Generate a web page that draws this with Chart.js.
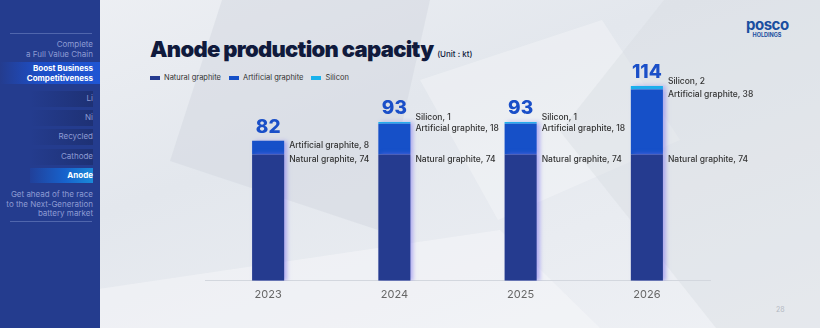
<!DOCTYPE html>
<html>
<head>
<meta charset="utf-8">
<script src="https://cdn.jsdelivr.net/npm/chart.js@4.4.1/dist/chart.umd.min.js"></script>
<style>
  html, body { margin: 0; padding: 0; }
  body {
    width: 820px; height: 328px; overflow: hidden; position: relative;
    font-family: "Inter", "Noto Sans", sans-serif;
    background: linear-gradient(160deg, #eef0f4 0%, #e3e7ed 40%, #e9ecf1 70%, #eff1f5 100%);
  }
  .shape { position: absolute; }
  .s1 { left: 170px; top: 0; width: 260px; height: 230px; background: rgba(208,213,221,0.45); clip-path: polygon(20% 0, 100% 0, 80% 100%, 0 70%); }
  .s2 { left: 420px; top: 20px; width: 260px; height: 200px; background: rgba(255,255,255,0.28); clip-path: polygon(0 30%, 70% 0, 100% 60%, 30% 100%); }
  .s3 { left: 560px; top: 0; width: 260px; height: 328px; background: rgba(214,219,226,0.4); clip-path: polygon(40% 0, 100% 0, 100% 100%, 60% 100%, 0 40%); }
  .s4 { left: 100px; top: 230px; width: 500px; height: 98px; background: rgba(248,249,251,0.45); clip-path: polygon(0 60%, 80% 0, 100% 100%, 0 100%); }
  #side {
    position: absolute; left: 0; top: 0; width: 100px; height: 328px; background: #243c8e;
    font-size: 8px; color: #8d9bd3; text-align: right; line-height: 9.5px;
  }
  #side .rule { position: absolute; left: 10px; width: 82px; height: 1px; background: #5066ad; }
  #side .it { position: absolute; right: 7px; white-space: nowrap; }
  #side .band { position: absolute; left: 30px; width: 63px; height: 16px; background: linear-gradient(90deg, rgba(30,48,115,0), #1e3175); }
  #side .boost { position: absolute; left: 0; top: 62px; width: 100px; height: 22px; background: linear-gradient(90deg, rgba(29,79,200,0), #1d4fc8 40%, #1f55d3); }
  #side .anode { position: absolute; left: 30px; top: 168px; width: 63px; height: 15px; background: linear-gradient(90deg, rgba(20,80,200,0.2), #1762cc 55%, #1a8ad9); }
  #side .w { color: #fff; font-weight: 700; }
  h1 { position: absolute; left: 150px; top: 36px; margin: 0; font-size: 22px; font-weight: 900; color: #101a3c; letter-spacing: -0.7px; }
  h1 small { font-size: 8px; font-weight: 500; letter-spacing: 0; }
  #legend { position: absolute; left: 150px; top: 73px; font-size: 7.5px; color: #333; display: flex; }
  #legend span { display: flex; align-items: center; margin-right: 8px; }
  #legend i { display: inline-block; width: 10px; height: 4px; margin-right: 4px; }
  #logo { position: absolute; left: 746px; top: 18px; color: #1a4fa0; text-align: center; width: 42px; }
  #logo b { display: block; font-size: 15px; font-weight: 700; letter-spacing: -0.5px; line-height: 14px; }
  #logo em { display: block; font-style: normal; font-size: 5.5px; font-weight: 700; line-height: 7px; }
  #page { position: absolute; left: 776px; top: 305px; font-size: 7px; color: #b4b9c3; }
  #wrap { position: absolute; left: 150px; top: 40px; width: 620px; height: 272px; }
</style>
</head>
<body>
<div class="shape s1"></div><div class="shape s2"></div><div class="shape s3"></div><div class="shape s4"></div>

<div id="side">
  <div class="rule" style="top:33px"></div>
  <div class="it" style="top:40px">Complete<br>a Full Value Chain</div>
  <div class="boost"></div>
  <div class="it w" style="top:64px">Boost Business<br>Competitiveness</div>
  <div class="band" style="top:91px"></div><div class="it" style="top:94px">Li</div>
  <div class="band" style="top:110px"></div><div class="it" style="top:113px">Ni</div>
  <div class="band" style="top:129px"></div><div class="it" style="top:132px">Recycled</div>
  <div class="band" style="top:149px"></div><div class="it" style="top:152px">Cathode</div>
  <div class="anode"></div><div class="it w" style="top:171px">Anode</div>
  <div class="it" style="top:190px">Get ahead of the race<br>to the Next-Generation<br>battery market</div>
  <div class="rule" style="top:221px"></div>
</div>

<h1>Anode production capacity <small>(Unit : kt)</small></h1>
<div id="legend"></div>
<div id="logo"><b>posco</b><em>HOLDINGS</em></div>
<div id="page">28</div>
<div id="wrap"><canvas id="chart"></canvas></div>

<script>
const years = ['2023', '2024', '2025', '2026'];
const seriesNames = ['Natural graphite', 'Artificial graphite', 'Silicon'];
const natural = [74, 74, 74, 74];
const artificial = [8, 18, 18, 38];
const silicon = [0, 1, 1, 2];
const totals = [82, 93, 93, 114];
const colors = ['#253b8f', '#1650c8', '#19b2ec'];

document.getElementById('legend').innerHTML = seriesNames
  .map((n, i) => `<span><i style="background:${colors[i]}"></i>${n}</span>`).join('');

// soft purple glow on the right side of the bars
const glow = {
  id: 'glow',
  beforeDatasetsDraw(chart) {
    const ctx = chart.ctx;
    ctx.save();
    ctx.shadowColor = 'rgba(130,120,240,0.55)';
    ctx.shadowOffsetX = 3;
    ctx.shadowBlur = 4;
  },
  afterDatasetsDraw(chart) {
    chart.ctx.restore();
  }
};

const labels = {
  id: 'labels',
  afterDraw(chart) {
    const ctx = chart.ctx;
    ctx.save();
    ctx.font = '500 8.5px Inter, "Noto Sans", sans-serif';
    ctx.fillStyle = '#333';
    ctx.textBaseline = 'middle';
    ctx.textAlign = 'left';
    chart.data.datasets.forEach((ds, di) => {
      chart.getDatasetMeta(di).data.forEach((bar, i) => {
        const v = ds.data[i];
        if (!v) return;
        const x = bar.x + bar.width / 2 + 5;
        const y = di === 2 ? bar.y - 5 : bar.y + 5;
        ctx.fillText(`${ds.label}, ${v}`, x, y);
      });
    });
    // totals above bars
    ctx.font = '800 19px Inter, "Noto Sans", sans-serif';
    ctx.fillStyle = '#1a4fc8';
    ctx.textAlign = 'center';
    ctx.textBaseline = 'bottom';
    const y = chart.scales.y;
    const metaTop = chart.getDatasetMeta(0);
    totals.forEach((t, i) => {
      ctx.fillText(t, metaTop.data[i].x, y.getPixelForValue(t) - 4);
    });
    ctx.restore();
  }
};

new Chart(document.getElementById('chart'), {
  type: 'bar',
  data: {
    labels: years,
    datasets: [
      { label: seriesNames[0], data: natural, backgroundColor: colors[0] },
      { label: seriesNames[1], data: artificial, backgroundColor: colors[1] },
      { label: seriesNames[2], data: silicon, backgroundColor: colors[2] }
    ]
  },
  options: {
    responsive: true,
    maintainAspectRatio: false,
    animation: false,
    layout: { padding: { left: 55, right: 60, top: 0, bottom: 12 } },
    datasets: { bar: { barPercentage: 0.254, categoryPercentage: 1 } },
    plugins: { legend: { display: false }, tooltip: { enabled: false } },
    scales: {
      x: {
        stacked: true,
        grid: { display: false },
        border: { display: true, color: '#d3d7de' },
        ticks: { color: '#666', font: { family: 'Inter, "Noto Sans", sans-serif', size: 11 }, padding: -1 }
      },
      y: { stacked: true, display: false, min: 0, max: 141 }
    }
  },
  plugins: [glow, labels]
});
</script>
</body>
</html>
